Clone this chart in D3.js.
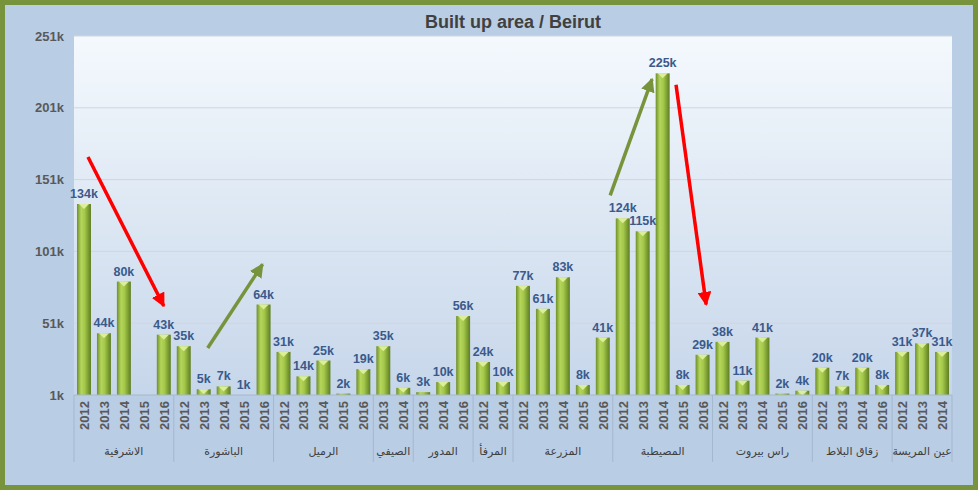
<!DOCTYPE html>
<html><head><meta charset="utf-8">
<script src="https://cdn.jsdelivr.net/npm/d3@7"></script>
<style>body{margin:0;background:#fff}svg{display:block}</style>
</head><body>
<svg id="c" width="978" height="490"></svg>
<script>
const categories = ["الاشرفية","الباشورة","الرميل","الصيفي","المدور","المرفأ","المزرعة","المصيطبة","راس بيروت","زقاق البلاط","عين المريسة"];
const years = [
 ["2012","2013","2014","2015","2016"],
 ["2012","2013","2014","2015","2016"],
 ["2012","2013","2014","2015","2016"],
 ["2013","2014"],
 ["2013","2014","2016"],
 ["2012","2014"],
 ["2012","2013","2014","2015","2016"],
 ["2012","2013","2014","2015","2016"],
 ["2012","2013","2014","2015","2016"],
 ["2012","2013","2014","2016"],
 ["2012","2013","2014"]
];
const values = [
 [134,44,80,null,43],
 [35,5,7,1,64],
 [31,14,25,2,19],
 [35,6],
 [3,10,56],
 [24,10],
 [77,61,83,8,41],
 [124,115,225,8,29],
 [38,11,41,2,4],
 [20,7,20,8],
 [31,37,31]
];
const yTicks = [1,51,101,151,201,251];
// annotation arrows: [slotStart, valueStart, slotEnd(tip), valueEnd(tip), color]
const arrows = [
 [0.70,166.7,4.50,63,"#ff0000"],
 [6.70,33.7,9.45,92,"#77933c"],
 [26.87,140,28.97,221,"#77933c"],
 [30.17,217,31.68,64,"#ff0000"]
];

const rows=[]; const groups=[];
categories.forEach((c,i)=>{const start=rows.length;
 years[i].forEach((y,j)=>rows.push({cat:c,year:y,v:values[i][j],key:i+"-"+j}));
 groups.push({cat:c,start,end:rows.length});});

const svg=d3.select("#c");
const defs=svg.append("defs");
const bg=defs.append("linearGradient").attr("id","bg").attr("x1",0).attr("x2",0).attr("y1",0).attr("y2",1);
bg.append("stop").attr("offset",0).attr("stop-color","#f4f9fd");
bg.append("stop").attr("offset",1).attr("stop-color","#c6d6ea");
const bar=defs.append("linearGradient").attr("id","bar");
[[0,"#6f8f2c"],[0.3,"#b5d65a"],[0.55,"#a3c84a"],[1,"#5e7d22"]].forEach(s=>bar.append("stop").attr("offset",s[0]).attr("stop-color",s[1]));
["R:#ff0000","G:#77933c"].forEach(s=>{const [id,col]=s.split(":");
 defs.append("marker").attr("id","ah"+id).attr("viewBox","0 0 10 10").attr("refX",9).attr("refY",5).attr("markerWidth",4).attr("markerHeight",4).attr("orient","auto")
 .append("path").attr("d","M0,0L10,5L0,10z").attr("fill",col);});

svg.append("rect").attr("width",978).attr("height",490).attr("fill","#77933c");
svg.append("rect").attr("x",5).attr("y",5).attr("width",968).attr("height",480).attr("fill","#b9cde5");

const L=74,R=952,T=36,B=395;
const x=d3.scaleBand().domain(rows.map(r=>r.key)).range([L,R]).paddingInner(0.3).paddingOuter(0.15);
const slot=(R-L)/rows.length;
const xs=s=>L+s*slot;
const y=d3.scaleLinear().domain([1,251]).range([B,T]);

svg.append("rect").attr("x",L).attr("y",T).attr("width",R-L).attr("height",B-T).attr("fill","url(#bg)");
svg.append("g").selectAll("line").data(yTicks.slice(1)).join("line")
 .attr("x1",L).attr("x2",R).attr("y1",d=>y(d)).attr("y2",d=>y(d)).attr("stroke","#d0d6de").attr("stroke-width",1);

const ya=svg.append("g").attr("transform",`translate(${L},0)`).call(d3.axisLeft(y).tickValues(yTicks).tickFormat(d=>d+"k").tickSize(0).tickPadding(10));
ya.select(".domain").remove();
ya.selectAll("text").attr("font-family","Liberation Sans, Arial").attr("font-size",13).attr("font-weight","bold").attr("fill","#595959");

svg.append("text").attr("x",(L+R)/2).attr("y",28).attr("text-anchor","middle").attr("font-family","Liberation Sans, Arial").attr("font-size",18).attr("font-weight","bold").attr("fill","#404040").text("Built up area / Beirut");

const bd=rows.filter(r=>r.v!=null);
svg.append("g").selectAll("rect").data(bd).join("rect")
 .attr("x",d=>x(d.key)).attr("width",x.bandwidth()).attr("y",d=>y(d.v)).attr("height",d=>B-y(d.v)).attr("fill","url(#bar)");
svg.append("g").selectAll("path").data(bd.filter(d=>B-y(d.v)>4)).join("path")
 .attr("d",d=>{const x0=x(d.key),w=x.bandwidth(),t=y(d.v);return `M${x0+2},${t}L${x0+w-2},${t}L${x0+w/2},${t+5}z`;}).attr("fill","#dcee9a");
svg.append("g").selectAll("text").data(bd).join("text")
 .attr("x",d=>x(d.key)+x.bandwidth()/2).attr("y",d=>y(d.v)-6).attr("text-anchor","middle")
 .attr("font-family","Liberation Sans, Arial").attr("font-size",12.5).attr("font-weight","bold").attr("fill","#3a5a8c").text(d=>d.v+"k");

svg.append("line").attr("x1",L).attr("x2",R).attr("y1",B).attr("y2",B).attr("stroke","#a6b7cc");
svg.append("g").selectAll("text").data(rows).join("text")
 .attr("transform",d=>`translate(${x(d.key)+x.bandwidth()/2+5},${B+6}) rotate(-90)`).attr("text-anchor","end")
 .attr("font-family","Liberation Sans, Arial").attr("font-size",13).attr("font-weight","bold").attr("fill","#595959").text(d=>d.year);
svg.append("g").selectAll("line").data([0,...groups.map(g=>g.end)]).join("line")
 .attr("x1",d=>xs(d)).attr("x2",d=>xs(d)).attr("y1",B).attr("y2",462).attr("stroke","#a6b7cc");
svg.append("g").selectAll("text").data(groups).join("text")
 .attr("x",g=>xs((g.start+g.end)/2)).attr("y",455).attr("text-anchor","middle").attr("direction","rtl")
 .attr("font-family","DejaVu Sans, Arial").attr("font-size",11).attr("fill","#404040").text(g=>g.cat);

svg.append("g").selectAll("line").data(arrows).join("line")
 .attr("x1",a=>xs(a[0])).attr("y1",a=>y(a[1])).attr("x2",a=>xs(a[2])).attr("y2",a=>y(a[3]))
 .attr("stroke",a=>a[4]).attr("stroke-width",3.5).attr("marker-end",a=>a[4]=="#ff0000"?"url(#ahR)":"url(#ahG)");
</script>
</body></html>
